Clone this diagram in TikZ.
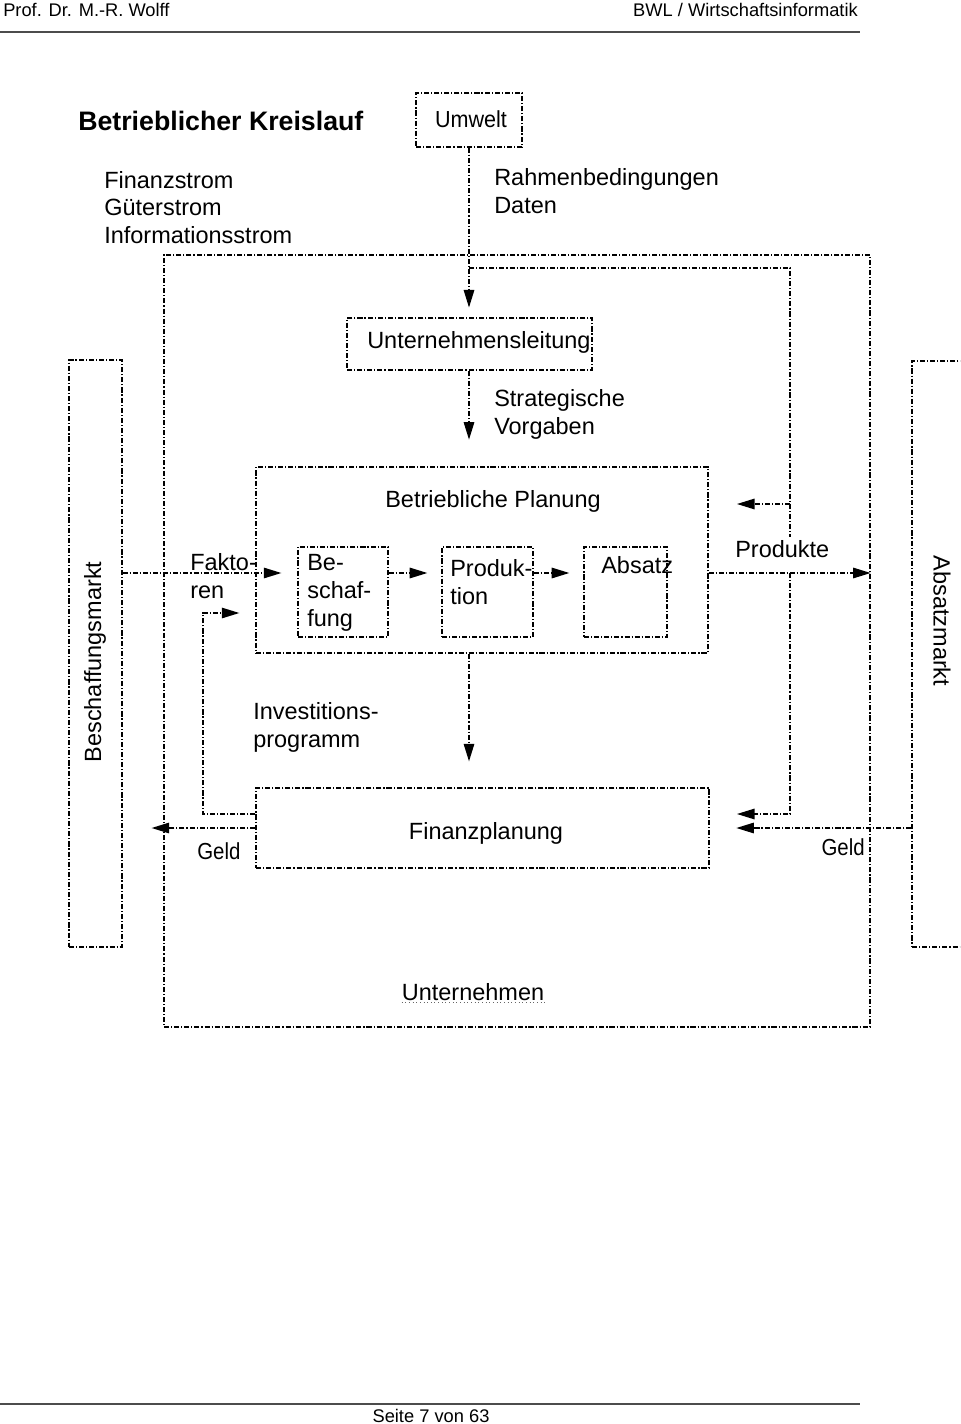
\documentclass[tikz,border=0pt]{standalone}
\usepackage{fontspec}
\usepackage{graphicx}
\setmainfont{Liberation Sans}
\usetikzlibrary{arrows.meta,fit}
\newcommand{\textgr}{\fontsize{16.7}{19.6}\selectfont}
\tikzstyle{strom} = [line width=0.9pt, dash pattern=on 3.6pt off 1.4pt on 0.8pt off 1.4pt]
\tikzstyle{box} = [strom, draw, inner sep=0pt]
\tikzstyle{pfeil} = [strom, -{Triangle[length=12.5pt, width=7.5pt]}]
\tikzstyle{txt} = [inner sep=0pt, align=left, font=\textgr]
\tikzstyle{kopf} = [inner sep=0pt, font=\fontsize{13}{15}\selectfont]
\tikzstyle{regel} = [line width=1.4pt, black!70]
\tikzstyle{eng} = [inner sep=0pt, font=\fontsize{16.5}{18}\selectfont]

\begin{document}
\begin{tikzpicture}[x=0.025cm, y=-0.025cm]
    \useasboundingbox (0,0) rectangle (960,1424);
    \clip (0,0) rectangle (960,1424);
    \node (autor) [kopf, anchor=north west] at (3,3) {Prof. Dr. M.-R. Wolff};
    \node (fach) [kopf, anchor=north east] at (858,3) {BWL / Wirtschaftsinformatik};
    \coordinate (kopf-l) at (0,32);
    \coordinate (kopf-r) at (860,32);
    \draw [regel] (kopf-l) -- (kopf-r);
    \coordinate (fuss-l) at (0,1404);
    \coordinate (fuss-r) at (860,1404);
    \draw [regel] (fuss-l) -- (fuss-r);
    \node (seite) [kopf, anchor=north] at (431,1409) {Seite 7 von 63};

    \node (titel) [inner sep=0pt, anchor=west, font=\bfseries\fontsize{19}{22}\selectfont] at (78,121) {Betrieblicher Kreislauf};
    \node (legende) [txt, anchor=north west] at (104,171) {Finanzstrom\\Güterstrom\\Informationsstrom};

    \node (umwelt) [box, fit={(416,93) (522,147)}] {};
    \node (umwelt-text) [eng, anchor=base] at (471,127.5) {\scalebox{0.93}[1]{Umwelt}};
    \node (rahmen) [txt, anchor=north west] at (494,168.5) {Rahmenbedingungen\\Daten};
    \node (unternehmen) [box, fit={(164,255) (870,1027)}] {};
    \node (unternehmen-text) [txt, anchor=base] at (473,1000) {Unternehmen};
    \draw [dotted, line width=0.6pt, black!60] ([yshift=-2pt]unternehmen-text.base west) -- ([yshift=-2pt]unternehmen-text.base east);
    \node (leitung) [box, fit={(347,318) (592,370)}] {};
    \node (leitung-text) [txt, anchor=base west] at (367,348) {Unternehmensleitung};
    \node (vorgaben) [txt, anchor=north west] at (494,389.6) {Strategische\\Vorgaben};
    \node (planung) [box, fit={(256,467) (708,653)}] {};
    \node (planung-text) [txt, anchor=base] at (493,507) {Betriebliche Planung};
    \node (beschaffung) [box, fit={(298,547) (388,637)}] {};
    \node (beschaffung-text) [txt, anchor=north west] at (307,554.5) {Be-\\schaf-\\fung};
    \node (produktion) [box, fit={(442,547) (533,637)}] {};
    \node (produktion-text) [txt, anchor=north west] at (450,559.5) {Produk-\\tion};
    \node (absatz) [box, fit={(584,547) (667,637)}] {};
    \node (absatz-text) [txt, anchor=north west] at (601,556.6) {Absatz};
    \node (finanz) [box, fit={(256,788) (709,868)}] {};
    \node (finanz-text) [txt, anchor=base] at (486,839.4) {Finanzplanung};
    \node (beschaffungsmarkt) [box, fit={(69,360) (122,947)}] {};
    \node (bm-text) [txt, rotate=90] at (95,662) {Beschaffungsmarkt};
    \node (absatzmarkt) [box, fit={(912,361) (1000,947)}] {};
    \node (am-text) [txt, rotate=-90] at (942,621) {Absatzmarkt};

    \node (faktoren) [txt, anchor=north west] at (190,553.5) {Fakto-\\ren};
    \node (produkte) [txt, anchor=north west] at (735,540.5) {Produkte};
    \node (investition) [txt, anchor=north west] at (253,702.5) {Investitions-\\programm};
    \node (geld-l) [eng, anchor=base west] at (197,859) {\scalebox{0.88}[1]{Geld}};
    \node (geld-r) [eng, anchor=base east] at (865,855) {\scalebox{0.88}[1]{Geld}};

    \coordinate (zeile) at (0,573);
    \coordinate (ecke) at (790,268);
    \coordinate (luecke-o) at (790,537);
    \coordinate (luecke-u) at (790,573);
    \coordinate (zu-planung) at (737,504);
    \coordinate (zu-finanz) at (737,814);
    \coordinate (invest) at (203,613);

    \draw [pfeil, shorten >=7pt] (umwelt.south) -- (umwelt.south |- leitung.north);
    \draw [strom] (umwelt.south |- ecke) -- (ecke) -- (luecke-o);
    \draw [pfeil] (luecke-o |- zu-planung) -- (zu-planung);
    \draw [pfeil] (luecke-u) |- (zu-finanz);
    \draw [pfeil, shorten >=19pt] (umwelt.south |- leitung.south) -- (umwelt.south |- planung.north);
    \draw [pfeil, shorten >=11.4pt] (beschaffungsmarkt.east |- zeile) -- (beschaffung.west |- zeile);
    \draw [pfeil, shorten >=10pt] (beschaffung.east |- zeile) -- (produktion.west |- zeile);
    \draw [pfeil, shorten >=10pt] (produktion.east |- zeile) -- (absatz.west |- zeile);
    \draw [pfeil] (planung.east |- zeile) -- (unternehmen.east |- zeile);
    \draw [pfeil, shorten >=18.5pt] (umwelt.south |- planung.south) -- (umwelt.south |- finanz.north);
    \draw [pfeil, shorten >=20.6pt] (finanz.west) -- (finanz.west -| beschaffungsmarkt.east);
    \draw [pfeil, shorten >=19pt] (absatzmarkt.west |- finanz.east) -- (finanz.east);
    \draw [pfeil, shorten >=11.4pt] (finanz.west |- zu-finanz) -| (invest) -- (invest -| planung.west);
\end{tikzpicture}
\end{document}
